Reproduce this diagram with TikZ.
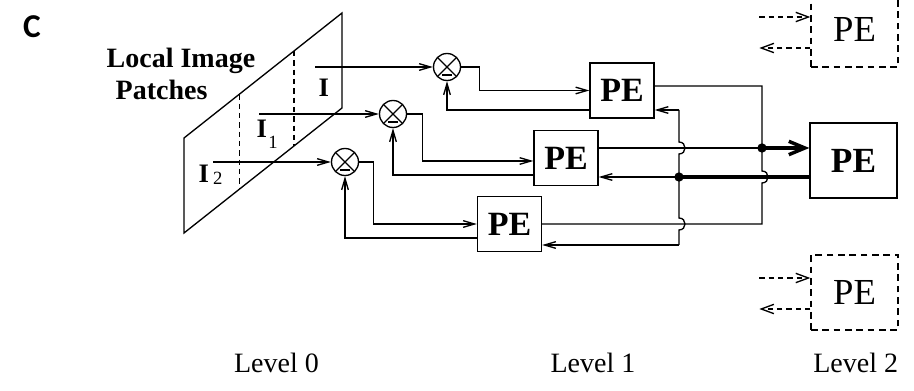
\documentclass[tikz,border=0pt]{standalone}
\usepackage{fontspec}
\setmainfont{Liberation Serif}
\newfontfamily\panelfont{Carlito}
\usetikzlibrary{arrows.meta,calc}

\newcommand{\idx}[2]{\raisebox{#1}{\fontsize{14}{14}\selectfont\mdseries #2}}

\tikzset{every picture/.style={line width=1pt}}

\begin{document}
\begin{tikzpicture}[
            x=0.75pt,
            y=0.75pt,
            yscale=-1,
            xscale=1,
            line width=1pt,
            pe/.style={draw, inner sep=0pt, minimum width=48pt, minimum height=41.25pt, font=\fontsize{25.5}{26}\selectfont\bfseries},
            bigpe/.style={pe, minimum width=65.25pt, minimum height=56.25pt, font=\fontsize{26.5}{27}\selectfont\bfseries},
            ghostpe/.style={draw, dash pattern={on 5pt off 3.5pt}, inner sep=0pt, minimum width=65.25pt, minimum height=56.25pt, font=\fontsize{27.5}{28}\selectfont},
            sum/.style={draw, circle, inner sep=0pt, minimum size=20.25pt,
                path picture={\draw (path picture bounding box.north west) -- (path picture bounding box.south east)
                                    (path picture bounding box.north east) -- (path picture bounding box.south west);}},
            arr/.style={-{Straight Barb[length=8.5pt,width=5pt]}},
            darr/.style={dash pattern={on 4pt off 3pt}, -{Straight Barb[length=9.5pt,width=7pt]}},
            bold/.style={line width=2.6pt},
            dot/.style={circle, fill, inner sep=0pt, minimum size=7pt},
            txt/.style={inner sep=0pt, font=\fontsize{21}{22}\selectfont},
            patchlbl/.style={inner sep=0pt, anchor=base west, font=\fontsize{20}{20}\selectfont\bfseries}
        ]
            \useasboundingbox (0,0) rectangle (914,391);

            \draw  (184,138) -- (342,13) -- (342,108) -- (184,233) -- cycle;
            \draw  [dash pattern={on 4pt off 3pt}]  (239.3,94.3) -- (239.3,189.3);
            \draw  [dash pattern={on 4pt off 3pt}]  (294,51) -- (294,146);

            \node [sum] (s1) at (447,67) {};
            \node [sum] (s2) at (393,114) {};
            \node [sum] (s3) at (345,162) {};
            \foreach \s in {s1,s2,s3}
                \draw [line width=1.5pt] ($(\s)+(-5,8.5)$) -- ($(\s)+(5,8.5)$);

            \node [pe] (pe1) at (622,90.5) {PE};
            \node [pe] (pe2) at (566,158) {PE};
            \node [pe] (pe3) at (509.5,224) {PE};
            \node [bigpe] (pe4) at (853.5,160.5) {PE};
            \node [ghostpe] (up) at (854.5,29.5) {PE};
            \node [ghostpe] (down) at (854.5,292.5) {PE};

            \coordinate (i0) at (315,67);
            \coordinate (i1) at (259,114);
            \coordinate (i2) at (213,162);
            \draw [arr]  (i0) -- (s1.west);
            \draw [arr]  (i1) -- (s2.west);
            \draw [arr]  (i2) -- (s3.west);

            \draw [arr]  (s1.east) -- ++(18,0) |- (pe1.west);
            \draw [arr]  (s2.east) -- ++(15,0) |- (pe2.west |- 0,161);
            \draw [arr]  (s3.east) -- ++(14,0) |- (pe3.west);

            \draw [arr]  (pe1.west |- 0,110) -| (s1.south);
            \draw [arr]  (pe2.west |- 0,175) -| (s2.south);
            \draw [arr]  (pe3.west |- 0,238) -| (s3.south);

            \coordinate (b1) at (679,110);
            \coordinate (b2) at (679,177);
            \coordinate (b3) at (679,245);
            \coordinate (o2) at (762,148);
            \draw [arr]  (b1) -- (pe1.east |- b1);
            \draw [arr]  (b2) -- (pe2.east |- b2);
            \draw [arr]  (b3) -- (pe3.east |- b3);
            \draw  (b1) -- (679,142) .. controls +(8,0) and +(8,0) .. (679,154) -- (679,218) .. controls +(8,0) and +(8,0) .. (679,230) -- (b3);

            \draw  (pe1.east |- 0,86) -| (762,171) .. controls +(8,0) and +(8,0) .. (762,183) |- (pe3.east |- 0,224);
            \draw  (pe2.east |- o2) -- (o2);
            \draw [bold, -{Straight Barb[length=12pt,width=10pt]}]  (o2) -- (pe4.west |- o2);
            \draw [bold]  (pe4.west |- b2) -- (b2);
            \node [dot] (jo) at (o2) {};
            \node [dot] (jb) at (b2) {};

            \draw [darr]  (up.west |- 0,17) ++(-51,0) -- ++(51,0);
            \draw [darr]  (up.west |- 0,48) -- ++(-51,0);
            \draw [darr]  (down.west |- 0,278) ++(-51,0) -- ++(51,0);
            \draw [darr]  (down.west |- 0,309) -- ++(-51,0);

            \node [patchlbl] (li) at (318,97) {I};
            \node [patchlbl] (li1) at (256,138) {I\hspace{1pt}\idx{-8pt}{1}};
            \node [patchlbl] (li2) at (198,183) {I\hspace{3pt}\idx{-1.5pt}{2}};

            \node [txt, anchor=center] (panel) at (32,27) {\panelfont\fontsize{25}{25}\selectfont\bfseries C};
            \node [txt, anchor=base west, font=\fontsize{21}{22}\selectfont\bfseries] (title1) at (106,68) {Local Image};
            \node [txt, anchor=base west, font=\fontsize{21}{22}\selectfont\bfseries] (title2) at (115,100) {Patches};
            \node [txt, anchor=base] (lv0) at (276.5,373) {Level 0};
            \node [txt, anchor=base] (lv1) at (593,373) {Level 1};
            \node [txt, anchor=base] (lv2) at (855.7,373) {Level 2};
        \end{tikzpicture}
\end{document}
